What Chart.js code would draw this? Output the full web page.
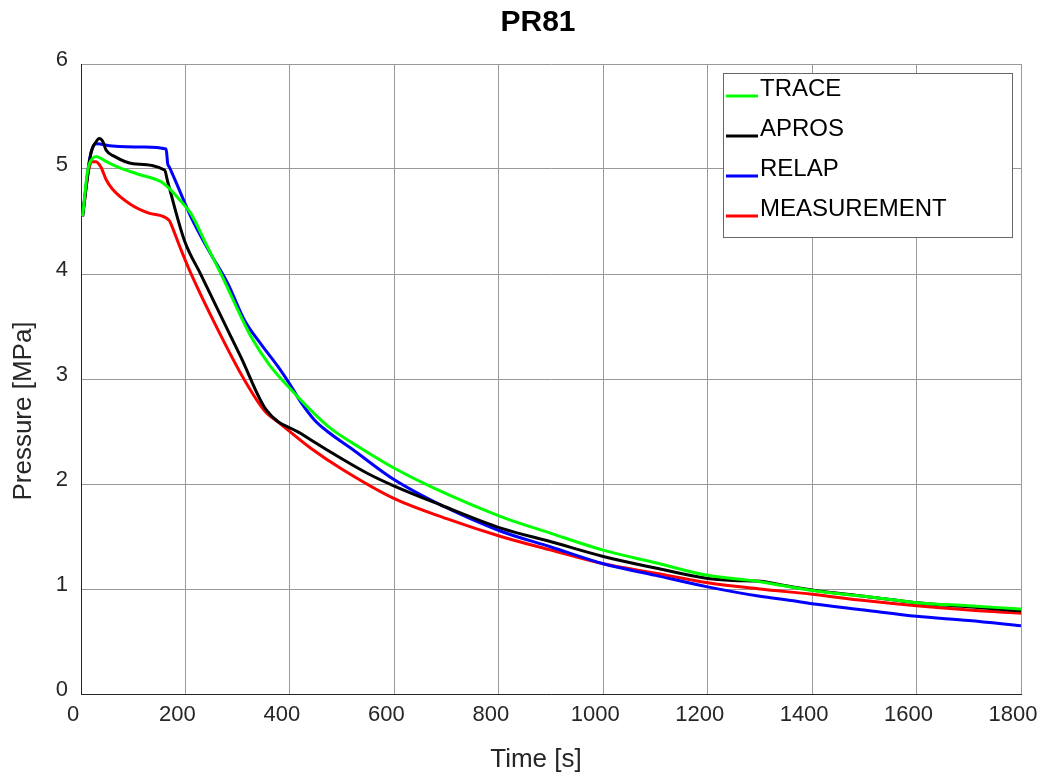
<!DOCTYPE html>
<html lang="en">
<head>
  <meta charset="UTF-8" />
  <title>PR81</title>
  <script src="https://cdn.jsdelivr.net/npm/chart.js@4/dist/chart.umd.min.js"></script>
  <style>
    html, body { margin: 0; padding: 0; background: #fff; }
    #wrap { width: 1043px; height: 779px; }
  </style>
</head>
<body>
  <div id="wrap"><canvas id="chart" width="1043" height="779"></canvas></div>

  <script>
    // values (time in s, pressure in MPa)
    const traceTime = [3, 13, 22, 29, 45, 70, 110, 153, 166, 190, 210, 240, 274, 300, 326, 360, 402, 453, 478, 536, 600, 676, 804, 900, 1000, 1100, 1200, 1300, 1400, 1500, 1600, 1700, 1800]
    const tracePressure = [4.55, 4.99, 5.10, 5.12, 5.08, 5.02, 4.95, 4.88, 4.83, 4.70, 4.58, 4.28, 3.94, 3.66, 3.40, 3.14, 2.90, 2.64, 2.53, 2.34, 2.15, 1.96, 1.69, 1.53, 1.37, 1.25, 1.13, 1.07, 0.985, 0.93, 0.87, 0.84, 0.81]

    const aprosTime = [3, 19, 29, 35, 42, 48, 64, 100, 160, 166, 198, 230, 262, 306, 354, 421, 466, 549, 600, 689, 804, 900, 1000, 1100, 1200, 1250, 1283, 1310, 1339, 1400, 1500, 1600, 1700, 1800]
    const aprosPressure = [4.55, 5.15, 5.26, 5.29, 5.26, 5.18, 5.12, 5.05, 4.99, 4.88, 4.32, 3.99, 3.66, 3.21, 2.71, 2.48, 2.34, 2.10, 1.98, 1.80, 1.58, 1.45, 1.31, 1.20, 1.10, 1.08, 1.076, 1.07, 1.04, 0.99, 0.93, 0.87, 0.83, 0.79]

    const relapTime = [3, 16, 22, 29, 60, 120, 163, 166, 169, 190, 210, 245, 281, 313, 345, 377, 400, 421, 447, 472, 517, 600, 689, 804, 900, 1000, 1100, 1200, 1300, 1360, 1400, 1500, 1600, 1700, 1800]
    const relapPressure = [4.55, 5.08, 5.20, 5.24, 5.22, 5.21, 5.19, 5.05, 5.02, 4.78, 4.55, 4.22, 3.91, 3.56, 3.33, 3.12, 2.95, 2.78, 2.61, 2.50, 2.34, 2.04, 1.80, 1.55, 1.40, 1.24, 1.13, 1.02, 0.93, 0.89, 0.86, 0.80, 0.74, 0.70, 0.65]

    const measTime = [3, 10, 16, 22, 28, 38, 48, 60, 96, 130, 169, 172, 190, 210, 262, 313, 351, 380, 440, 500, 600, 700, 804, 900, 1000, 1100, 1200, 1300, 1400, 1500, 1600, 1700, 1800]
    const measPressure = [4.55, 4.83, 5.02, 5.07, 5.07, 5.02, 4.90, 4.81, 4.66, 4.58, 4.51, 4.48, 4.25, 4.01, 3.47, 2.99, 2.70, 2.58, 2.34, 2.14, 1.86, 1.67, 1.50, 1.37, 1.24, 1.15, 1.06, 1.00, 0.95, 0.89, 0.84, 0.80, 0.77]

    const seriesNames = ['TRACE', 'APROS', 'RELAP', 'MEASUREMENT']
    const seriesColors = ['#00ff00', '#000000', '#0000ff', '#ff0000']
    const xTicks = [0, 200, 400, 600, 800, 1000, 1200, 1400, 1600, 1800]
    const yTicks = [0, 1, 2, 3, 4, 5, 6]

    const FONT = '"Liberation Sans", Arial, sans-serif'

    function points(ts, ps) {
      return ts.map((t, i) => ({ x: t, y: ps[i] }))
    }

    const allSeries = [
      points(traceTime, tracePressure),
      points(aprosTime, aprosPressure),
      points(relapTime, relapPressure),
      points(measTime, measPressure)
    ]

    // title, axis titles and the boxed legend, placed like the matlab figure
    const figureBits = {
      id: 'figureBits',
      afterDraw(chart) {
        const ctx = chart.ctx
        const area = chart.chartArea
        ctx.save()
        ctx.fillStyle = '#000'
        ctx.font = 'bold 30px ' + FONT
        ctx.textAlign = 'center'
        ctx.textBaseline = 'middle'
        ctx.fillText('PR81', 538, 23)

        ctx.fillStyle = '#262626'
        ctx.font = '26px ' + FONT
        ctx.fillText('Time [s]', 536, 760)
        ctx.save()
        ctx.translate(24, 411)
        ctx.rotate(-Math.PI / 2)
        ctx.fillText('Pressure [MPa]', 0, 0)
        ctx.restore()

        const bx = area.right - 298, by = area.top + 9, bw = 289, bh = 164
        ctx.fillStyle = '#fff'
        ctx.fillRect(bx, by, bw, bh)
        ctx.strokeStyle = '#666'
        ctx.lineWidth = 1
        ctx.strokeRect(bx + 0.5, by + 0.5, bw, bh)

        ctx.font = '24px ' + FONT
        ctx.textAlign = 'left'
        ctx.textBaseline = 'alphabetic'
        chart.data.datasets.forEach((ds, i) => {
          const ly = by + 24 + i * 40
          ctx.strokeStyle = ds.borderColor
          ctx.lineWidth = 3
          ctx.beginPath()
          ctx.moveTo(bx + 3, ly - 1)
          ctx.lineTo(bx + 35, ly - 1)
          ctx.stroke()
          ctx.fillStyle = '#000'
          ctx.fillText(ds.label, bx + 37, ly - 1)
        })
        ctx.restore()
      }
    }

    const ctx = document.getElementById('chart').getContext('2d')
    new Chart(ctx, {
      type: 'line',
      data: {
        datasets: allSeries.map((pts, i) => ({
          label: seriesNames[i],
          data: pts,
          borderColor: seriesColors[i],
          backgroundColor: seriesColors[i],
          borderWidth: 3,
          pointRadius: 0,
          fill: false,
          cubicInterpolationMode: 'monotone'
        }))
      },
      options: {
        responsive: false,
        animation: false,
        layout: { padding: { top: 64, right: 22, left: 0, bottom: 0 } },
        plugins: {
          legend: { display: false },
          title: { display: false },
          tooltip: { enabled: false }
        },
        scales: {
          x: {
            type: 'linear',
            min: 0,
            max: 1800,
            afterFit(scale) {
              scale.height = 85
              scale.paddingLeft = 0
              scale.paddingRight = 0
            },
            afterBuildTicks(scale) { scale.ticks = xTicks.map(v => ({ value: v })) },
            grid: { color: '#999', lineWidth: 1, drawTicks: false },
            border: { color: '#262626', width: 1 },
            ticks: {
              color: '#262626', padding: 8, labelOffset: -8,
              font: { size: 22, family: FONT },
              callback: v => String(v)
            }
          },
          y: {
            min: 0,
            max: 6,
            afterFit(scale) {
              scale.width = 81
              scale.paddingTop = 0
              scale.paddingBottom = 0
            },
            afterBuildTicks(scale) { scale.ticks = yTicks.map(v => ({ value: v })) },
            grid: { color: '#999', lineWidth: 1, drawTicks: false },
            border: { color: '#262626', width: 1 },
            ticks: {
              color: '#262626', padding: 13, labelOffset: -4,
              font: { size: 22, family: FONT },
              callback: v => String(v)
            }
          }
        }
      },
      plugins: [figureBits]
    })
  </script>
</body>
</html>
